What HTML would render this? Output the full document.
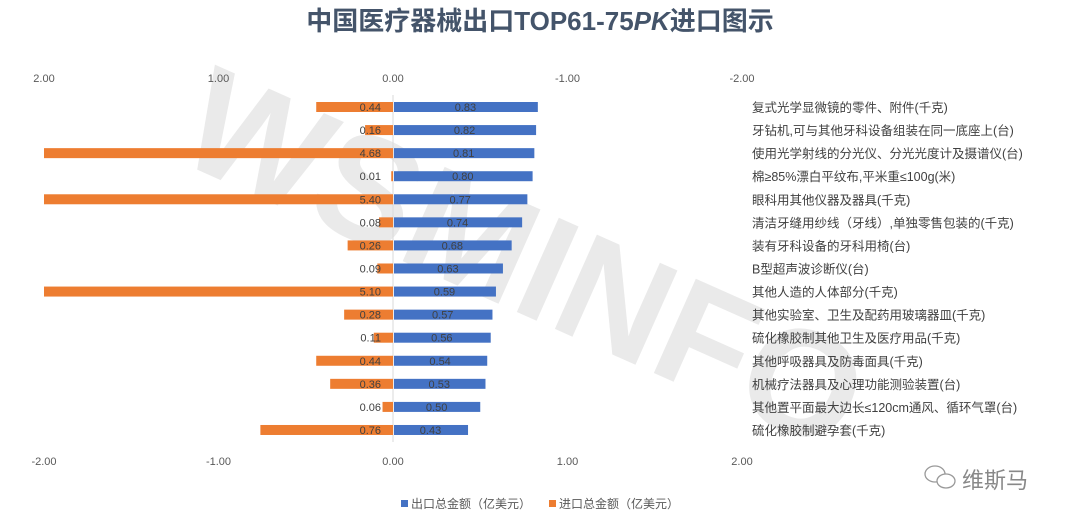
<!DOCTYPE html>
<html><head><meta charset="utf-8"><style>
body{margin:0;background:#fff;width:1080px;height:524px;overflow:hidden;font-family:"Liberation Sans","Noto Sans CJK SC",sans-serif;}
svg text{font-family:"Liberation Sans","Noto Sans CJK SC",sans-serif;}
</style></head><body>
<svg id="chart" width="1080" height="524" viewBox="0 0 1080 524" xmlns="http://www.w3.org/2000/svg">
<text x="540" y="30" text-anchor="middle" font-size="26" font-weight="bold" fill="#44546a">中国医疗器械出口TOP61-75<tspan font-style="italic">PK</tspan>进口图示</text>
<text x="0" y="0" transform="translate(520,270) rotate(24)" text-anchor="middle" dominant-baseline="middle" font-size="150" font-weight="bold" fill="#d9d9d9" opacity="0.55">WSMINFO</text>
<g id="axes"></g>
<g id="bars"></g>
<g>
<rect x="401" y="500" width="7" height="7" fill="#4472c4"/>
<text x="411" y="508" font-size="12" fill="#595959">出口总金额（亿美元）</text>
<rect x="549" y="500" width="7" height="7" fill="#ed7d31"/>
<text x="559" y="508" font-size="12" fill="#595959">进口总金额（亿美元）</text>
</g>
<g fill="none" stroke="#999" stroke-width="1.3">
<ellipse cx="935" cy="474" rx="10" ry="8"/><ellipse cx="946" cy="481" rx="9" ry="7" fill="#fff"/>
</g>
<text x="962" y="488" font-size="22" fill="#888">维斯马</text>
</svg>
<script>
const categories=["复式光学显微镜的零件、附件(千克)","牙钻机,可与其他牙科设备组装在同一底座上(台)","使用光学射线的分光仪、分光光度计及摄谱仪(台)","棉≥85%漂白平纹布,平米重≤100g(米)","眼科用其他仪器及器具(千克)","清洁牙缝用纱线（牙线）,单独零售包装的(千克)","装有牙科设备的牙科用椅(台)","B型超声波诊断仪(台)","其他人造的人体部分(千克)","其他实验室、卫生及配药用玻璃器皿(千克)","硫化橡胶制其他卫生及医疗用品(千克)","其他呼吸器具及防毒面具(千克)","机械疗法器具及心理功能测验装置(台)","其他置平面最大边长≤120cm通风、循环气罩(台)","硫化橡胶制避孕套(千克)"];
const exportVals=[0.83,0.82,0.81,0.80,0.77,0.74,0.68,0.63,0.59,0.57,0.56,0.54,0.53,0.50,0.43];
const importVals=[0.44,0.16,4.68,0.01,5.40,0.08,0.26,0.09,5.10,0.28,0.11,0.44,0.36,0.06,0.76];
const topTicks=[2,1,0,-1,-2];
const bottomTicks=[-2,-1,0,1,2];
const NS="http://www.w3.org/2000/svg";
const x0=393,unit=174.5,maxV=2;
const xExp=v=>x0+Math.min(v,maxV)*unit;
const xImp=v=>x0-Math.min(v,maxV)*unit;
const rowY=i=>107+i*23.07;
function mk(t,a,p){const e=document.createElementNS(NS,t);for(const k in a)e.setAttribute(k,a[k]);p.appendChild(e);return e;}
const axes=document.getElementById('axes'),bars=document.getElementById('bars');
mk('line',{x1:x0,x2:x0,y1:95,y2:442,stroke:'#d9d9d9','stroke-width':1},axes);
topTicks.forEach(t=>{const e=mk('text',{x:x0-t*unit,y:82,'text-anchor':'middle','font-size':11,fill:'#595959'},axes);


e.textContent=t.toFixed(2);});
bottomTicks.forEach(t=>{const e=mk('text',{x:x0+t*unit,y:465,'text-anchor':'middle','font-size':11,fill:'#595959'},axes);


e.textContent=t.toFixed(2);});
categories.forEach((c,i)=>{const y=rowY(i);
const b=mk('rect',{x:x0+1,y:y-5,width:xExp(exportVals[i])-x0-1,height:10,fill:'#4472c4'},bars);


const o=mk('rect',{x:xImp(importVals[i]),y:y-5,width:x0-xImp(importVals[i]),height:10,fill:'#ed7d31'},bars);


const el=mk('text',{x:(x0+xExp(exportVals[i]))/2,y:y+4,'text-anchor':'middle','font-size':11,fill:'#404040'},bars);


el.textContent=exportVals[i].toFixed(2);
const il=mk('text',{x:381,y:y+4,'text-anchor':'end','font-size':11,fill:'#404040'},bars);


il.textContent=importVals[i].toFixed(2);
const cl=mk('text',{x:752,y:y+5,'font-size':12.5,fill:'#404040'},bars);


cl.textContent=c;});
</script>
</body></html>
